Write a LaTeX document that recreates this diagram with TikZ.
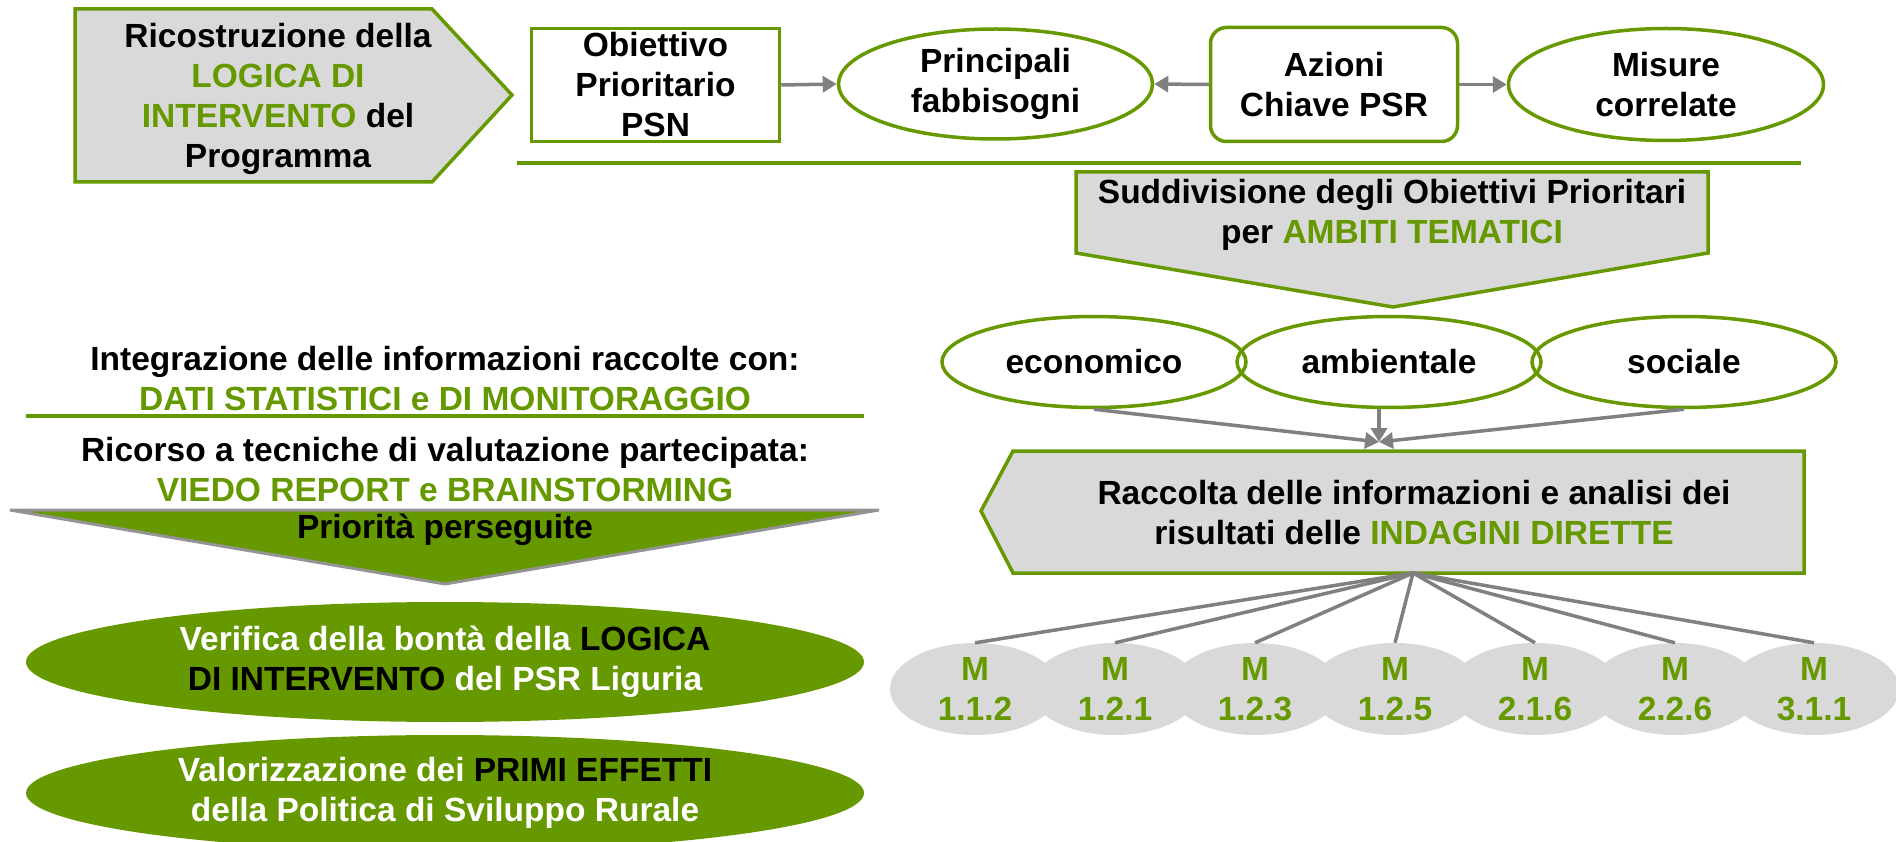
\documentclass[tikz,border=0pt]{standalone}
\usepackage{fontspec}
\setmainfont{Liberation Sans}
\usetikzlibrary{arrows.meta,shapes.geometric,shapes.misc}
\definecolor{pgreen}{HTML}{669900}
\definecolor{pgray}{HTML}{D9D9D9}
\definecolor{agray}{HTML}{808080}
\begin{document}
\begin{tikzpicture}[x=1pt,y=-1pt,
  txt/.style={font=\fontsize{33.5}{40}\selectfont\bfseries, align=center, inner sep=0pt},
  gbord/.style={draw=pgreen, line width=3.5pt, line join=miter},
  conn/.style={draw=agray, line width=3.5pt},
  arr/.style={conn, -{Triangle[length=14pt,width=16pt]}},
  gell/.style={ellipse, draw=pgreen, line width=3.5pt, inner sep=0pt, fill=white, txt},
  aell/.style={ellipse, draw=pgreen, line width=3.5pt, inner sep=0pt, txt},
  mell/.style={ellipse, fill=pgray, inner sep=0pt, minimum width=170pt, minimum height=92pt, txt, text=pgreen},
  vell/.style={ellipse, fill=pgreen, inner sep=0pt, minimum width=838pt, txt, text=white},
]
\useasboundingbox (0,0) rectangle (1896,842);

% top left pentagon
\draw[gbord, fill=pgray] (75,9) -- (432,9) -- (512,95) -- (432,182) -- (75,182) -- cycle;
\node[txt] (ric0) at (278,99) {Ricostruzione della\\\textcolor{pgreen}{LOGICA DI}\\\textcolor{pgreen}{INTERVENTO} del\\Programma};

% top row
\node[txt, draw=pgreen, line width=3.5pt, fill=white, minimum width=248pt, minimum height=113pt] (obj) at (655.5,85) {Obiettivo\\Prioritario\\PSN};
\node[gell, minimum width=314pt, minimum height=110pt] (prin) at (995.5,84) {Principali\\fabbisogni};
\node[txt, draw=pgreen, line width=3.5pt, fill=white, rounded corners=16pt, minimum width=247pt, minimum height=114pt] (az) at (1334,84.5) {Azioni\\Chiave PSR};
\node[gell, minimum width=315pt, minimum height=112pt] (mis) at (1666,84.5) {Misure\\correlate};
\draw[arr] (obj.east) -- (prin.west);
\draw[arr] (az.west) -- (prin.east);
\draw[arr] (az.east) -- (mis.west);

\coordinate (l1a) at (517,163);
\coordinate (l1b) at (1801,163);
\draw[pgreen, line width=4pt] (l1a) -- (l1b);

% suddivisione
\draw[gbord, fill=pgray] (1076,172) -- (1708,172) -- (1708,253) -- (1393,307) -- (1076,253) -- cycle;
\node[txt] (sud) at (1392,215) {Suddivisione degli Obiettivi Prioritari\\per \textcolor{pgreen}{AMBITI TEMATICI}};

% ambiti
\node[aell, minimum width=304pt, minimum height=91pt] (eco) at (1094,362) {economico};
\node[aell, minimum width=304pt, minimum height=91pt] (amb) at (1389,362) {ambientale};
\node[aell, minimum width=304pt, minimum height=91pt] (soc) at (1684,362) {sociale};
\coordinate (conv) at (1379,442);
\draw[arr] (eco.south) -- (conv);
\draw[arr] (amb.south -| conv) -- (conv);
\draw[arr] (soc.south) -- (conv);

% raccolta
\draw[gbord, fill=pgray] (1013,451) -- (1804,451) -- (1804,573) -- (1013,573) -- (981,511) -- cycle;
\node[txt] (rac) at (1414,513) {Raccolta delle informazioni e analisi dei\\risultati delle \textcolor{pgreen}{INDAGINI DIRETTE}};
\coordinate (fan) at (1413,573);

% M circles
\node[mell] (m1) at (975,689) {M\\1.1.2};
\node[mell] (m2) at (1115,689) {M\\1.2.1};
\node[mell] (m3) at (1255,689) {M\\1.2.3};
\node[mell] (m4) at (1395,689) {M\\1.2.5};
\node[mell] (m5) at (1535,689) {M\\2.1.6};
\node[mell] (m6) at (1675,689) {M\\2.2.6};
\node[mell] (m7) at (1814,689) {M\\3.1.1};
\foreach \m in {m1,m2,m3,m4,m5,m6,m7} {\draw[conn] (fan) -- (\m.north);}

% left side
\node[txt] (int) at (445,379) {Integrazione delle informazioni raccolte con:\\\textcolor{pgreen}{DATI STATISTICI e DI MONITORAGGIO}};
\coordinate (l2a) at (26,416);
\coordinate (l2b) at (864,416);
\draw[pgreen, line width=4pt] (l2a) -- (l2b);
\node[txt] (ric) at (445,470) {Ricorso a tecniche di valutazione partecipata:\\\textcolor{pgreen}{VIEDO REPORT e BRAINSTORMING}};
\draw[draw=agray!85, line width=3pt, fill=pgreen, line join=miter] (10,510) -- (879,510) -- (445,584) -- cycle;
\node[txt] (prio) at (445,530) {Priorità perseguite};

\node[vell, minimum height=120pt] (ver) at (445,662) {Verifica della bontà della \textcolor{black}{LOGICA}\\\textcolor{black}{DI INTERVENTO} del PSR Liguria};
\node[vell, minimum height=116pt] (val) at (445,793) {Valorizzazione dei \textcolor{black}{PRIMI EFFETTI}\\della Politica di Sviluppo Rurale};
\end{tikzpicture}
\end{document}
